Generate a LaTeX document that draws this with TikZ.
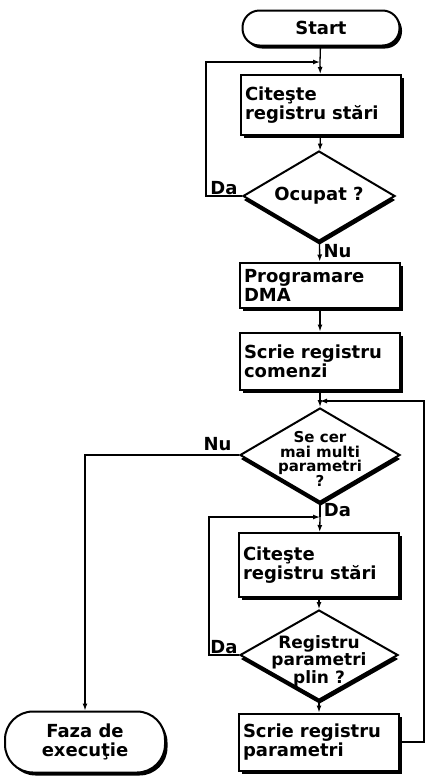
\documentclass[tikz,border=0pt]{standalone}
\usepackage{fontspec}
\setmainfont{DejaVu Sans}
\usetikzlibrary{arrows.meta,shapes.geometric,shadows}
\newcommand\fsz[2]{\fontsize{#1}{#2}\selectfont\bfseries}

\begin{document}
\begin{tikzpicture}[x=1pt,y=-1pt,line width=1.3pt,>={Latex[length=7pt,width=5pt]},font=\fsz{18}{19},
  shd/.style={drop shadow={shadow xshift=2.5pt,shadow yshift=-3pt,fill=black,opacity=1}},
  proc/.style={draw,line width=2pt,fill=white,shd,minimum width=160pt,text width=152pt,inner sep=4pt,align=left},
  term/.style={draw,line width=2pt,fill=white,shd,rounded corners=#1,inner sep=2pt,align=center},
  decision/.style={diamond,draw,line width=2pt,fill=white,drop shadow={shadow xshift=.5pt,shadow yshift=-4pt,fill=black,opacity=1},inner sep=0pt},
  dtext/.style={align=center,inner sep=0pt}]
\useasboundingbox(0,0)rectangle(425,777);
% nodes of the main column
\node[term=17pt,minimum width=157pt,minimum height=35pt](st)at(321,28){Start};
\node[proc,minimum height=60pt](b1)at(321,105){Citeşte\\registru stări};
\node[decision,minimum width=152pt,minimum height=90pt](q1)at(319,196){};
\node[dtext](q1t)at(q1){Ocupat ?};
\node[proc,minimum height=45pt](b2)at(320,285){Programare\\DMA};
\node[proc,minimum height=57pt](b3)at(320,361){Scrie registru\\comenzi};
\node[decision,minimum width=160pt,minimum height=94pt](q2)at(320,455){};
\node[dtext,font=\fsz{15}{14.5}](q2t)at(320,459){Se cer\\mai multi\\parametri\\?};
\node[proc,minimum height=64pt](b4)at(319,565){Citeşte\\registru stări};
\node[decision,minimum width=158pt,minimum height=90pt](q3)at(319,655){};
\node[dtext,font=\fsz{17}{15.5}](q3t)at(319,661){Registru\\parametri\\plin ?};
\node[proc,minimum height=57pt](b5)at(319,742){Scrie registru\\parametri};
\node[term=28pt,minimum width=160pt,minimum height=61pt](fz)at(85,742){Faza de\\execuţie};
\coordinate(j1)at(320,62);\coordinate(j2)at(320,401);\coordinate(j3)at(320,517);\coordinate(rr)at(424,401);
% connectors
\draw(st)--(j1);\draw[->](j1)--(b1);\draw[->](b1)--(q1);
\draw[->](q1.west)--node[above,inner sep=1pt]{Da}++(-36,0)|-(j1);
\draw[->](q1)--node[right,pos=.45]{Nu}(b2);\draw[->](b2)--(b3);
\draw(b3)--(j2);\draw[->](j2)--(q2);
\draw[->](q2.west)-|node[above,pos=.07]{Nu}(fz);
\draw(q2)--node[right]{Da}(j3);\draw[->](j3)--(b4);\draw[->](b4)--(q3);
\draw[->](q3.west)--node[above,inner sep=1pt]{Da}++(-30,0)|-(j3);
\draw[->](q3)--(b5);
\draw[->](b5.east)-|(rr)--(j2);
\end{tikzpicture}
\end{document}
